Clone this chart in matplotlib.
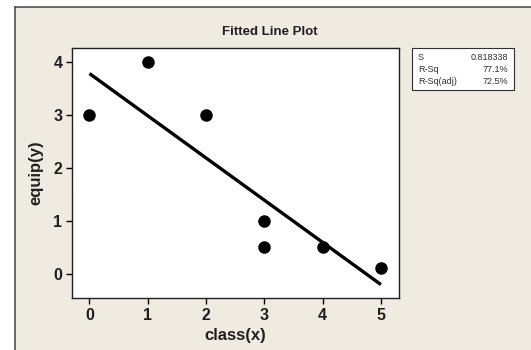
import numpy as np
import matplotlib
matplotlib.use("Agg")
from matplotlib import pyplot as plt
from matplotlib.patches import Rectangle
from matplotlib.lines import Line2D

# observations
class_x = [0, 1, 2, 3, 3, 4, 5]
equip_y = [3, 4, 3, 1, 0.5, 0.5, 0.1]
stat_names = ['S', 'R-Sq', 'R-Sq(adj)']
stat_values = ['0.818338', '77.1%', '72.5%']

plt.rcParams['font.family'] = ['Liberation Sans', 'DejaVu Sans']

W, H = 531, 350
fig = plt.figure(figsize=(W / 100, H / 100), dpi=100)
fig.patch.set_facecolor('white')

# beige panel with dark border on top and left
bg = '#EFEBE1'
fig.patches.append(Rectangle((15 / W, 0), 1 - 15 / W, 1 - 7 / H, transform=fig.transFigure,
                             facecolor=bg, edgecolor='none', zorder=-10))
fig.lines.append(Line2D([15 / W, 1], [1 - 7 / H, 1 - 7 / H], transform=fig.transFigure,
                        color='#505050', lw=1.2))
fig.lines.append(Line2D([15 / W, 15 / W], [0, 1 - 7 / H], transform=fig.transFigure,
                        color='#505050', lw=1.2))

ax = fig.add_axes([72 / W, 1 - 298 / H, (399 - 72) / W, (298 - 48) / H])
ax.set_facecolor('white')

slope, intercept = np.polyfit(class_x, equip_y, 1)
xf = np.array([0, 5])
ax.plot(xf, intercept + slope * xf, color='black', lw=2.4, solid_capstyle='butt')
ax.plot(class_x, equip_y, 'o', color='black', markersize=8)

ax.set_xlim(-0.3, 5.31)
ax.set_ylim(-0.46, 4.26)
ax.set_xticks(range(0, 6))
ax.set_yticks(range(0, 5))
ax.tick_params(direction='out', length=4, width=1, labelsize=11.5, pad=3)
for lbl in ax.get_xticklabels() + ax.get_yticklabels():
    lbl.set_fontweight('bold')
    lbl.set_color('#202020')
for sp in ax.spines.values():
    sp.set_linewidth(1)
    sp.set_color('#202020')

ax.set_xlabel('class(x)', fontsize=12, fontweight='bold', color='#202020', labelpad=4)
ax.set_ylabel('equip(y)', fontsize=12, fontweight='bold', color='#202020', labelpad=7)
fig.text(270 / W, 1 - 32 / H, 'Fitted Line Plot', ha='center', va='center',
         fontsize=9.5, fontweight='bold', color='#202020')

# stats box
fig.patches.append(Rectangle((412 / W, 1 - 90 / H), (514 - 412) / W, (90 - 48) / H,
                             transform=fig.transFigure, facecolor='white',
                             edgecolor='#303030', lw=0.8))
for i, (nm, val) in enumerate(zip(stat_names, stat_values)):
    yy = 1 - (57 + i * 12.5) / H
    fig.text(418 / W, yy, nm, ha='left', va='center', fontsize=6.5, color='#303030')
    fig.text(508 / W, yy, val, ha='right', va='center', fontsize=6.5, color='#303030')

fig.savefig('out.png', dpi=100, facecolor=fig.get_facecolor())
